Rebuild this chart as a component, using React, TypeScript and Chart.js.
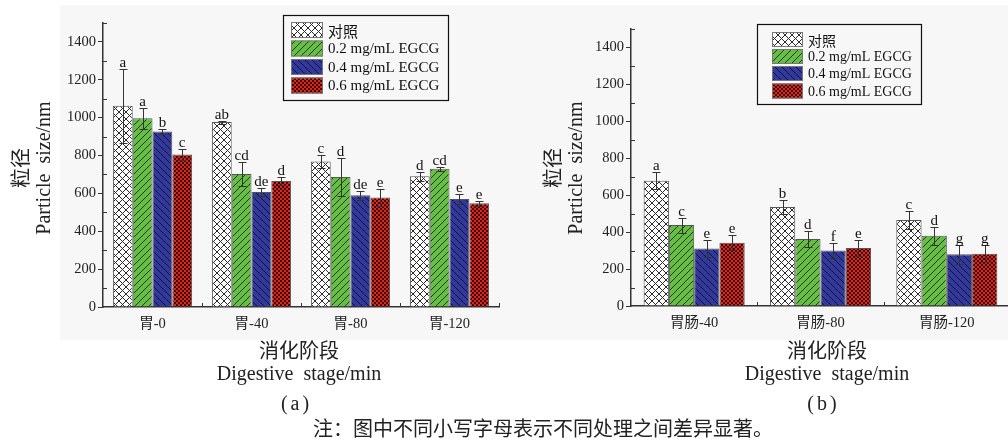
import React, { useEffect, useRef } from "react";
import { Chart, registerables } from "chart.js";

Chart.register(...registerables);

// ---------- data ----------
const SERIES_NAMES = ["对照", "0.2 mg/mL EGCG", "0.4 mg/mL EGCG", "0.6 mg/mL EGCG"];

const CATS_A = ["胃-0", "胃-40", "胃-80", "胃-120"];
const A_CONTROL = [1063, 977, 768, 690];
const A_EGCG02 = [997, 703, 686, 730];
const A_EGCG04 = [927, 607, 590, 570];
const A_EGCG06 = [805, 665, 578, 548];
const A_ERR_CONTROL = [195, 8, 33, 25];
const A_ERR_EGCG02 = [55, 65, 100, 12];
const A_ERR_EGCG04 = [12, 20, 25, 25];
const A_ERR_EGCG06 = [28, 22, 45, 14];
const A_LET_CONTROL = ["a", "ab", "c", "d"];
const A_LET_EGCG02 = ["a", "cd", "d", "cd"];
const A_LET_EGCG04 = ["b", "de", "de", "e"];
const A_LET_EGCG06 = ["c", "d", "e", "e"];

const CATS_B = ["胃肠-40", "胃肠-80", "胃肠-120"];
const B_CONTROL = [678, 536, 466];
const B_EGCG02 = [438, 363, 381];
const B_EGCG04 = [311, 301, 280];
const B_EGCG06 = [343, 314, 283];
const B_ERR_CONTROL = [45, 40, 50];
const B_ERR_EGCG02 = [40, 42, 48];
const B_ERR_EGCG04 = [45, 42, 50];
const B_ERR_EGCG06 = [42, 42, 45];
const B_LET_CONTROL = ["a", "b", "c"];
const B_LET_EGCG02 = ["c", "d", "d"];
const B_LET_EGCG04 = ["e", "f", "g"];
const B_LET_EGCG06 = ["e", "e", "g"];

const Y_MIN = 0;
const Y_MAX = 1500;
const Y_TICKS = [0, 200, 400, 600, 800, 1000, 1200, 1400];
const Y_MINOR = [100, 300, 500, 700, 900, 1100, 1300, 1500];

const Y_TITLE_CN = "粒径";
const Y_TITLE_EN = "Particle  size/nm";
const X_TITLE_CN = "消化阶段";
const X_TITLE_EN = "Digestive  stage/min";
const CAPTION = "注：图中不同小写字母表示不同处理之间差异显著。";

// ---------- patterns ----------
function makeTile(kind: string): CanvasPattern | string {
  const c = document.createElement("canvas");
  const g = c.getContext("2d");
  if (!g) return "#ccc";
  if (kind === "cross") {
    c.width = 7; c.height = 7;
    g.fillStyle = "#ffffff"; g.fillRect(0, 0, 7, 7);
    g.strokeStyle = "#2a2a2a"; g.lineWidth = 1;
    g.beginPath();
    g.moveTo(0, 0); g.lineTo(7, 7);
    g.moveTo(0, 7); g.lineTo(7, 0);
    g.stroke();
  } else if (kind === "fwd" || kind === "back") {
    const s = 7;
    c.width = s; c.height = s;
    g.fillStyle = kind === "fwd" ? "#66bf44" : "#33399a";
    g.fillRect(0, 0, s, s);
    g.strokeStyle = kind === "fwd" ? "#1d2a14" : "#0c0f30";
    g.lineWidth = 0.9;
    g.beginPath();
    if (kind === "fwd") {
      g.moveTo(-1, s + 1); g.lineTo(s + 1, -1);
      g.moveTo(-1, 1); g.lineTo(1, -1);
      g.moveTo(s - 1, s + 1); g.lineTo(s + 1, s - 1);
    } else {
      g.moveTo(-1, -1); g.lineTo(s + 1, s + 1);
      g.moveTo(s - 1, -1); g.lineTo(s + 1, 1);
      g.moveTo(-1, s - 1); g.lineTo(1, s + 1);
    }
    g.stroke();
  } else {
    c.width = 4; c.height = 4;
    g.fillStyle = "#e0261c"; g.fillRect(0, 0, 4, 4);
    g.fillStyle = "#3c0806";
    g.fillRect(0, 0, 2, 2);
    g.fillRect(2, 2, 2, 2);
  }
  const p = g.createPattern(c, "repeat");
  return p || "#ccc";
}

// ---------- panel config ----------
type Panel = {
  cats: string[];
  values: number[][];
  errors: number[][];
  letters: string[][];
  width: number;
  yAxisX: number;
  plotRight: number;
  plotTop: number;
  plotBottom: number;
  legend: { x: number; y: number; w: number; h: number; sx: number; sw: number; sh: number; rows: number[]; tx: number; font: number };
  yTitleX: [number, number];
  yTitleY: number;
  xTitleX: number;
  label: string;
  labelX: number;
};

const H = 441;

const PANEL_A: Panel = {
  cats: CATS_A,
  values: [A_CONTROL, A_EGCG02, A_EGCG04, A_EGCG06],
  errors: [A_ERR_CONTROL, A_ERR_EGCG02, A_ERR_EGCG04, A_ERR_EGCG06],
  letters: [A_LET_CONTROL, A_LET_EGCG02, A_LET_EGCG04, A_LET_EGCG06],
  width: 505,
  yAxisX: 103,
  plotRight: 499,
  plotTop: 23,
  plotBottom: 307,
  legend: { x: 283, y: 15, w: 165, h: 85, sx: 291, sw: 32, sh: 16, rows: [22, 40.5, 59, 77.5], tx: 328, font: 15 },
  yTitleX: [20, 45],
  yTitleY: 168,
  xTitleX: 299,
  label: "(a)",
  labelX: 295,
};

const PANEL_B: Panel = {
  cats: CATS_B,
  values: [B_CONTROL, B_EGCG02, B_EGCG04, B_EGCG06],
  errors: [B_ERR_CONTROL, B_ERR_EGCG02, B_ERR_EGCG04, B_ERR_EGCG06],
  letters: [B_LET_CONTROL, B_LET_EGCG02, B_LET_EGCG04, B_LET_EGCG06],
  width: 508,
  yAxisX: 126,
  plotRight: 505,
  plotTop: 29,
  plotBottom: 306,
  legend: { x: 252, y: 24, w: 164, h: 80, sx: 267, sw: 31, sh: 15, rows: [32, 49, 66, 83.5], tx: 303, font: 14 },
  yTitleX: [47, 72],
  yTitleY: 168,
  xTitleX: 322,
  label: "(b)",
  labelX: 317,
};

const SERIF = "'Liberation Serif', 'Noto Sans CJK SC', serif";
const CJK = "'Noto Sans CJK SC', sans-serif";

function extrasPlugin(p: Panel, pats: (CanvasPattern | string)[]) {
  return {
    id: "extras",
    afterDatasetsDraw(chart: any) {
      const ctx: CanvasRenderingContext2D = chart.ctx;
      const ys = chart.scales.y;
      const xs = chart.scales.x;
      const ca = chart.chartArea;
      ctx.save();
      // error bars + letters
      chart.data.datasets.forEach((ds: any, i: number) => {
        const meta = chart.getDatasetMeta(i);
        meta.data.forEach((el: any, j: number) => {
          const v = ds.data[j];
          const e = p.errors[i][j];
          const top = Math.round(ys.getPixelForValue(v + e)) + 0.5;
          const bot = Math.round(ys.getPixelForValue(v - e)) + 0.5;
          const cx = Math.round(el.x) + 0.5;
          ctx.strokeStyle = "#333";
          ctx.lineWidth = 1;
          ctx.beginPath();
          ctx.moveTo(cx, top); ctx.lineTo(cx, bot);
          ctx.moveTo(cx - 4, top); ctx.lineTo(cx + 4, top);
          ctx.moveTo(cx - 4, bot); ctx.lineTo(cx + 4, bot);
          ctx.stroke();
          ctx.fillStyle = "#111";
          ctx.font = `15px ${SERIF}`;
          ctx.textAlign = "center";
          ctx.textBaseline = "alphabetic";
          ctx.fillText(p.letters[i][j], el.x, top - 3);
        });
      });
      // minor y ticks (inward)
      ctx.strokeStyle = "#333";
      ctx.lineWidth = 1;
      ctx.beginPath();
      Y_MINOR.forEach((v) => {
        const py = Math.round(ys.getPixelForValue(v)) + 0.5;
        ctx.moveTo(ca.left, py); ctx.lineTo(ca.left + 4, py);
      });
      // x boundary ticks (inward)
      const n = p.cats.length;
      for (let k = 0; k < n; k++) {
        const bx = k < n - 1 ? (xs.getPixelForValue(k) + xs.getPixelForValue(k + 1)) / 2 : ca.right;
        const px = Math.round(bx) + 0.5;
        ctx.moveTo(px, ca.bottom); ctx.lineTo(px, ca.bottom - 4);
      }
      ctx.stroke();
      // legend
      const L = p.legend;
      ctx.strokeStyle = "#111";
      ctx.lineWidth = 1.2;
      ctx.strokeRect(L.x + 0.5, L.y + 0.5, L.w, L.h);
      chart.data.datasets.forEach((ds: any, i: number) => {
        const ry = L.rows[i];
        ctx.fillStyle = pats[i] as any;
        ctx.fillRect(L.sx, ry, L.sw, L.sh);
        ctx.strokeStyle = "#777";
        ctx.lineWidth = 1;
        ctx.strokeRect(L.sx + 0.5, ry + 0.5, L.sw - 1, L.sh - 1);
        ctx.fillStyle = "#111";
        ctx.font = i === 0 ? `${L.font}px ${CJK}` : `${L.font}px ${SERIF}`;
        ctx.textAlign = "left";
        ctx.textBaseline = "middle";
        ctx.fillText(ds.label, L.tx, ry + L.sh / 2 + 1);
      });
      // y titles
      ctx.fillStyle = "#222";
      ctx.textAlign = "center";
      ctx.textBaseline = "middle";
      ctx.save();
      ctx.translate(p.yTitleX[0], p.yTitleY);
      ctx.rotate(-Math.PI / 2);
      ctx.font = `20px ${CJK}`;
      ctx.fillText(Y_TITLE_CN, 0, 0);
      ctx.restore();
      ctx.save();
      ctx.translate(p.yTitleX[1], p.yTitleY);
      ctx.rotate(-Math.PI / 2);
      ctx.font = `20px ${SERIF}`;
      ctx.fillText(Y_TITLE_EN, 0, 0);
      ctx.restore();
      // x titles
      ctx.font = `20px ${CJK}`;
      ctx.fillText(X_TITLE_CN, p.xTitleX, 350);
      ctx.font = `20px ${SERIF}`;
      ctx.fillText(X_TITLE_EN, p.xTitleX, 375);
      ctx.font = `20px ${SERIF}`;
      (ctx as any).letterSpacing = "3px";
      ctx.fillText(p.label, p.labelX + 1.5, 405);
      (ctx as any).letterSpacing = "0px";
      ctx.restore();
    },
  };
}

function PanelChart({ p, left }: { p: Panel; left: number }) {
  const ref = useRef<HTMLCanvasElement | null>(null);
  useEffect(() => {
    if (!ref.current) return;
    const pats = ["cross", "fwd", "back", "checker"].map(makeTile);
    const tickFont = { family: SERIF, size: 14.5 };
    const chart = new Chart(ref.current, {
      type: "bar",
      data: {
        labels: p.cats,
        datasets: p.values.map((vals, i) => ({
          label: SERIES_NAMES[i],
          data: vals,
          backgroundColor: pats[i] as any,
          borderColor: "#555",
          borderWidth: 1,
          categoryPercentage: 0.8,
          barPercentage: 1,
        })),
      },
      options: {
        animation: false,
        responsive: false,
        maintainAspectRatio: false,
        devicePixelRatio: 1,
        layout: { padding: { left: 0, top: p.plotTop, right: p.width - p.plotRight, bottom: 0 } },
        plugins: { legend: { display: false }, tooltip: { enabled: false } },
        scales: {
          x: {
            grid: { display: true, drawOnChartArea: false, drawTicks: false },
            border: { color: "#333", width: 1.5 },
            ticks: { font: tickFont, color: "#222", padding: 8, maxRotation: 0, autoSkip: false },
            afterFit: (s: any) => { s.height = H - p.plotBottom; },
          },
          y: {
            min: Y_MIN,
            max: Y_MAX,
            afterBuildTicks: (s: any) => { s.ticks = Y_TICKS.map((v) => ({ value: v })); },
            grid: { display: true, drawOnChartArea: false, drawTicks: true, tickLength: 5, color: "#333" },
            border: { color: "#333", width: 1.5 },
            ticks: { font: tickFont, color: "#222", padding: 2, callback: (v: any) => String(v) },
            afterFit: (s: any) => { s.width = p.yAxisX; },
          },
        },
      },
      plugins: [extrasPlugin(p, pats)],
    } as any);
    return () => chart.destroy();
  }, [p]);
  return (
    <canvas
      ref={ref}
      width={p.width}
      height={H}
      style={{ position: "absolute", left, top: 0, width: p.width, height: H }}
    />
  );
}

export default function App() {
  return (
    <div style={{ position: "absolute", left: 0, top: 0, width: 1008, height: 441, overflow: "hidden", background: "#fff" }}>
      <div style={{ position: "absolute", left: 60, top: 5, width: 948, height: 335, background: "#f7f7f7" }} />
      <PanelChart p={PANEL_A} left={0} />
      <PanelChart p={PANEL_B} left={505} />
      <div
        style={{
          position: "absolute",
          left: 0,
          width: 1086,
          top: 416,
          textAlign: "center",
          fontFamily: CJK,
          fontSize: 20,
          lineHeight: "24px",
          color: "#222",
          whiteSpace: "nowrap",
        }}
      >
        {CAPTION}
      </div>
    </div>
  );
}
